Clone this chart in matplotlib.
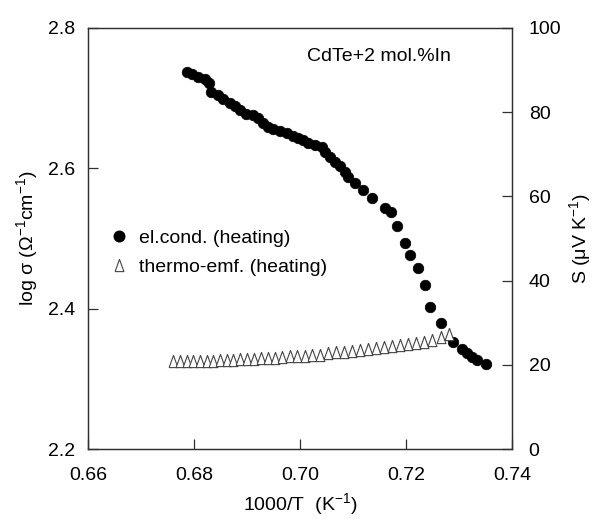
import matplotlib
matplotlib.use("Agg")
import matplotlib.pyplot as plt
from matplotlib.lines import Line2D

plt.rcParams['font.family'] = ['Liberation Sans', 'DejaVu Sans']
plt.rcParams['mathtext.fontset'] = 'custom'
plt.rcParams['mathtext.rm'] = 'Liberation Sans'
plt.rcParams['mathtext.it'] = 'Liberation Sans'

# el. conductivity (heating): 1000/T vs log sigma
cond_x = [0.6786, 0.6796, 0.6808, 0.6821, 0.6828, 0.6833, 0.6845, 0.6855, 0.6868, 0.6877,
          0.6887, 0.6899, 0.6911, 0.6921, 0.6930, 0.6940, 0.6949, 0.6962, 0.6975, 0.6987,
          0.6996, 0.7006, 0.7015, 0.7028, 0.7042, 0.7047, 0.7057, 0.7066, 0.7075, 0.7085,
          0.7091, 0.7104, 0.7119, 0.7136, 0.7160, 0.7172, 0.7183, 0.7198, 0.7208, 0.7223,
          0.7236, 0.7245, 0.7266, 0.7289, 0.7306, 0.7315, 0.7325, 0.7334, 0.7351]
cond_y = [2.7377, 2.7344, 2.7306, 2.7273, 2.7216, 2.7092, 2.7045, 2.6988, 2.6931, 2.6888,
          2.6831, 2.6774, 2.6760, 2.6717, 2.6646, 2.6589, 2.6560, 2.6532, 2.6503, 2.6461,
          2.6432, 2.6404, 2.6361, 2.6332, 2.6304, 2.6232, 2.6161, 2.6090, 2.6033, 2.5948,
          2.5876, 2.5791, 2.5691, 2.5577, 2.5434, 2.5377, 2.5178, 2.4936, 2.4765, 2.4580,
          2.4337, 2.4024, 2.3796, 2.3525, 2.3425, 2.3368, 2.3311, 2.3268, 2.3211]

# thermo-emf (heating): 1000/T vs S
emf_x = [0.6760, 0.6774, 0.6787, 0.6798, 0.6811, 0.6825, 0.6836, 0.6849, 0.6862, 0.6874,
         0.6887, 0.6900, 0.6913, 0.6926, 0.6940, 0.6953, 0.6966, 0.6981, 0.6994, 0.7009,
         0.7023, 0.7038, 0.7053, 0.7068, 0.7083, 0.7098, 0.7113, 0.7128, 0.7143, 0.7158,
         0.7174, 0.7189, 0.7204, 0.7219, 0.7234, 0.7249, 0.7266, 0.7281]
emf_s = [20.8, 21.0, 20.8, 20.9, 20.9, 21.0, 21.0, 21.2, 21.1, 21.2,
         21.3, 21.4, 21.4, 21.5, 21.6, 21.7, 21.8, 22.0, 22.1, 22.2,
         22.3, 22.4, 22.9, 23.0, 23.1, 23.3, 23.6, 23.8, 24.0, 24.3,
         24.5, 24.8, 25.0, 25.2, 25.5, 25.8, 26.5, 27.3]

x_ticks = [0.66, 0.68, 0.70, 0.72, 0.74]
x_ticklabels = ['0.66', '0.68', '0.70', '0.72', '0.74']
yl_ticks = [2.2, 2.4, 2.6, 2.8]
yl_ticklabels = ['2.2', '2.4', '2.6', '2.8']
yr_ticks = [0, 20, 40, 60, 80, 100]
yr_ticklabels = ['0', '20', '40', '60', '80', '100']

spine_c = '#303030'
fs = 14

fig = plt.figure(figsize=(5.95, 5.19), dpi=100)
ax = fig.add_axes([88/595, 1-449/519, 424/595, 421/519])
ax2 = ax.twinx()

tri = [(-0.72, -1), (0.72, -1), (0, 1), (-0.72, -1)]

l1, = ax.plot(cond_x, cond_y, linestyle='none', marker='o', ms=7.6,
              mfc='black', mec='black', mew=0.5, zorder=3)
l2, = ax2.plot(emf_x, emf_s, linestyle='none', marker=tri, ms=8.8,
               mfc='white', mec='#444444', mew=0.8, zorder=2)

ax.set_xlim(0.66, 0.74)
ax.set_ylim(2.2, 2.8)
ax2.set_ylim(0, 100)

ax.set_xticks(x_ticks)
ax.set_xticklabels(x_ticklabels)
ax.set_yticks(yl_ticks)
ax.set_yticklabels(yl_ticklabels)
ax2.set_yticks(yr_ticks)
ax2.set_yticklabels(yr_ticklabels)

ax.tick_params(axis='x', direction='in', length=7, width=0.9, color=spine_c,
               labelsize=fs, pad=13, top=False)
ax.tick_params(axis='y', direction='in', length=7, width=0.9, color=spine_c,
               labelsize=fs, pad=9)
ax2.tick_params(axis='y', direction='in', length=7, width=0.9, color=spine_c,
                labelsize=fs, pad=12)

for a in (ax, ax2):
    for s in a.spines.values():
        s.set_color(spine_c)
        s.set_linewidth(0.9)

ax.set_xlabel('1000/T  (K$^{-1}$)', fontsize=fs, labelpad=5)
ax.set_ylabel('log σ (Ω$^{-1}$cm$^{-1}$)', fontsize=fs, labelpad=6)
ax2.set_ylabel('S (μV K$^{-1}$)', fontsize=fs, labelpad=4)

ax.text(0.7013, 2.7587, 'CdTe+2 mol.%In', fontsize=fs, ha='left', va='center')

h1 = Line2D([], [], linestyle='none', marker='o', ms=7.6, mfc='black', mec='black')
h2 = Line2D([], [], linestyle='none', marker=tri, ms=8.8, mfc='white', mec='#444444', mew=0.8)
leg = ax.legend([h1, h2], ['el.cond. (heating)', 'thermo-emf. (heating)'],
                loc='upper left', bbox_to_anchor=(0.05, 0.521), frameon=False,
                fontsize=fs, handlelength=1.0, handletextpad=0.55, labelspacing=0.57,
                borderaxespad=0, borderpad=0)

fig.savefig('out.png', dpi=100)
